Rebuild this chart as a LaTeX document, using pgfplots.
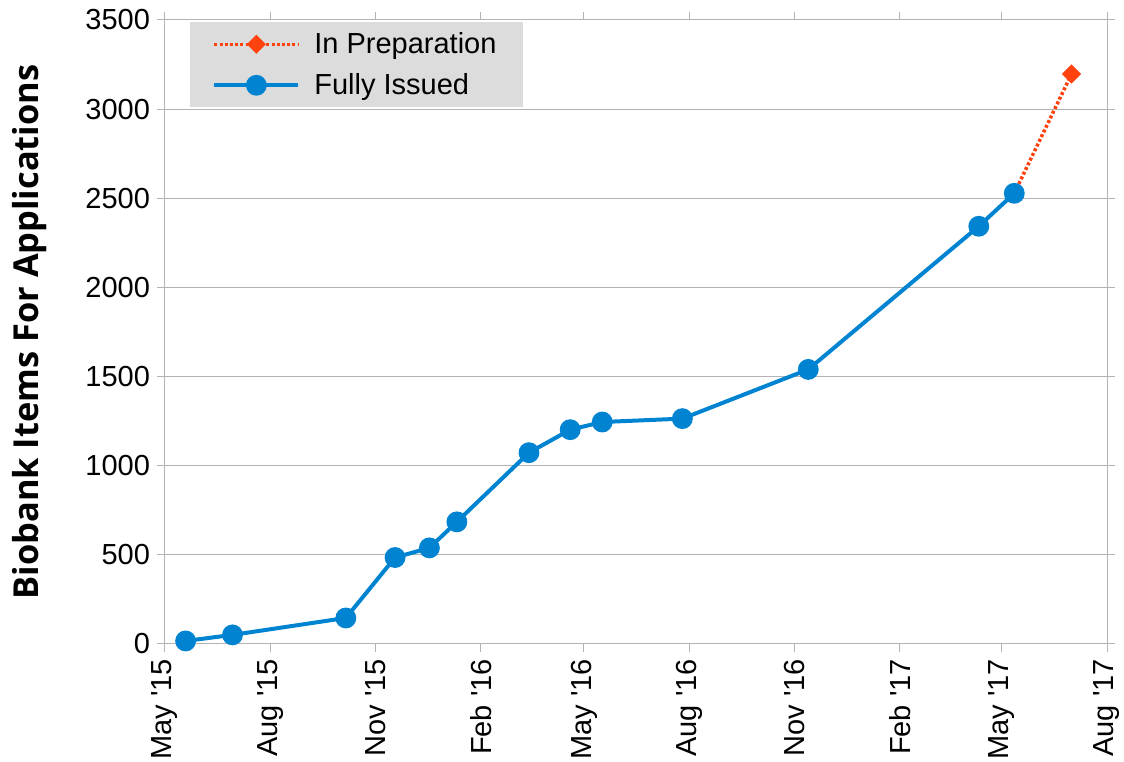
\documentclass[border=0pt]{standalone}
\usepackage{pgfplots}
\pgfplotsset{compat=1.18}
\usepackage{fontspec}
\setmainfont{Liberation Sans}
\newfontfamily\labelfont{Open Sans}
\definecolor{lblue}{HTML}{0084D1}
\definecolor{lorange}{HTML}{FF420E}
\definecolor{lgrid}{HTML}{B3B3B3}
\definecolor{legfill}{HTML}{DCDCDC}
\begin{document}
\begin{tikzpicture}
\begin{axis}[
  name=ax,
  scale only axis,
  width=471pt, height=312pt,
  xmin=0, xmax=823, ymin=0, ymax=3500,
  xtick={0,92,184,276,366,458,550,642,731,823},
  xticklabels={May \textquotesingle15,Aug \textquotesingle15,Nov \textquotesingle15,Feb \textquotesingle16,May \textquotesingle16,Aug \textquotesingle16,Nov \textquotesingle16,Feb \textquotesingle17,May \textquotesingle17,Aug \textquotesingle17},
  ytick={0,500,...,3500},
  /pgf/number format/1000 sep={},
  /pgf/number format/assume math mode=true,
  tick label style={font=\fontsize{14.5}{17}\selectfont, black},
  x tick label style={rotate=90, anchor=east},
  tick align=outside,
  major tick length=4pt,
  tick style={lgrid, line width=0.5pt},
  axis line style={lgrid, line width=0.5pt},
  ymajorgrids,
  grid style={lgrid, line width=0.5pt},
  ylabel={\labelfont\bfseries Biobank Items For Applications},
  ylabel style={font=\fontsize{17.2}{20}\selectfont, at={(axis description cs:0,0.5)}, anchor=center, yshift=67.5pt},
  legend style={at={(0.0265,0.997)}, anchor=north west, fill=legfill, draw=none,
    font=\fontsize{14.5}{17}\selectfont, row sep=4.5pt, inner xsep=11pt, inner ysep=3pt},
  legend cell align=left,
  legend image code/.code={\draw[#1, mark repeat=2, mark phase=2] plot coordinates {(0pt,0pt) (21pt,0pt) (42pt,0pt)}; \path (47pt,0pt);},
]
\addplot[lorange, line width=1.75pt, dash pattern=on 1.5pt off 1.1pt, mark=square*, mark size=2.5pt,
  mark options={solid, rotate=45, fill=lorange}] coordinates {(742,2528) (792,3197)};
\addlegendentry{In Preparation}
\addplot[lblue, line width=2pt, mark=*, mark size=4.2pt, mark options={solid, fill=lblue}] coordinates {
(18,17) (59,51) (158,146) (201,485) (231,539) (255,685) (318,1073) (354,1202) (382,1245) (452,1264) (562,1540) (711,2343) (742,2528)};
\addlegendentry{Fully Issued}
\end{axis}
\pgfresetboundingbox
\path ([xshift=-82.5pt,yshift=-59pt]ax.south west) rectangle ([xshift=8.5pt,yshift=10pt]ax.north east);
\end{tikzpicture}
\end{document}
